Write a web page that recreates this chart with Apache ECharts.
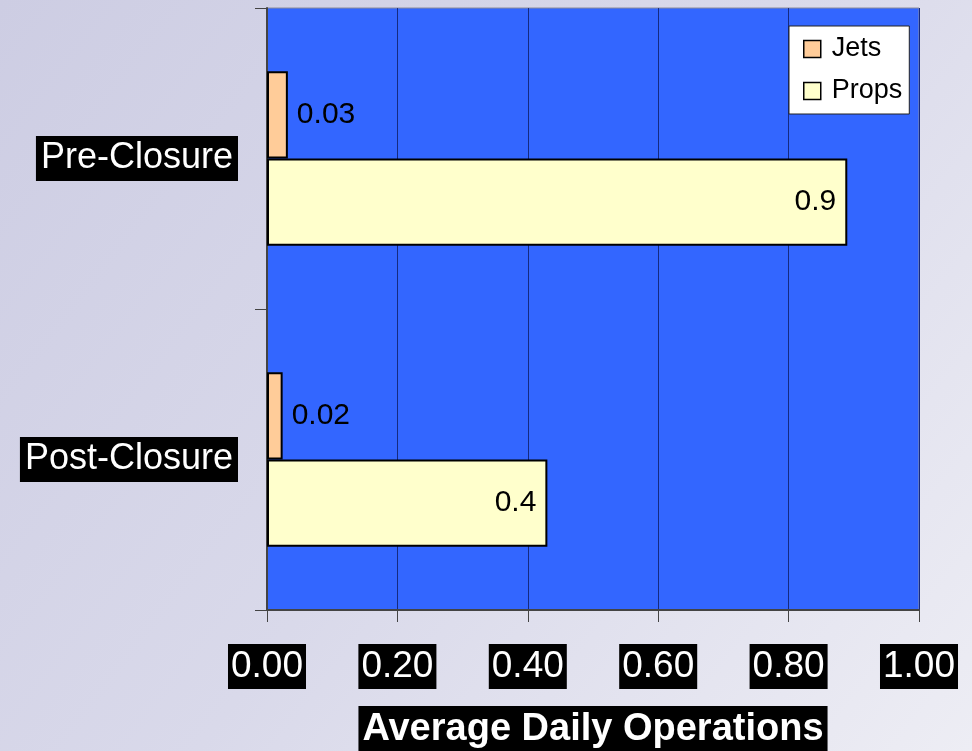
<!DOCTYPE html>
<html>
<head>
<meta charset="utf-8">
<script src="https://cdn.jsdelivr.net/npm/echarts@6/dist/echarts.min.js"></script>
<style>
html,body{margin:0;padding:0;}
#chart{width:972px;height:751px;}
</style>
</head>
<body>
<div id="chart"></div>
<script>
var categories = ['Pre-Closure', 'Post-Closure'];
var jets = [0.032, 0.024];
var props = [0.89, 0.43];
var xTicks = { min: 0, max: 1, interval: 0.2 };

var FONT = 'Liberation Sans, Arial, sans-serif';
var chart = echarts.init(document.getElementById('chart'));
chart.setOption({
  animation: false,
  backgroundColor: {
    type: 'linear', x: 0, y: 0, x2: 1, y2: 1,
    colorStops: [
      { offset: 0, color: '#cdcde3' },
      { offset: 0.5, color: '#d9d9ea' },
      { offset: 1, color: '#ededf4' }
    ]
  },
  grid: {
    left: 267, top: 8, width: 652, height: 602,
    outerBoundsMode: 'none',
    show: true, backgroundColor: '#3366FF', borderColor: '#8a8a9a', borderWidth: 1,
    containLabel: false
  },
  legend: {
    orient: 'vertical', left: 789, top: 26,
    backgroundColor: '#ffffff', borderColor: '#222', borderWidth: 1,
    padding: [8, 7, 8, 14], itemGap: 12,
    itemWidth: 17, itemHeight: 17, icon: 'rect',
    itemStyle: { borderColor: '#000', borderWidth: 1.5 },
    textStyle: { fontFamily: FONT, fontSize: 27, color: '#000', lineHeight: 30, padding: [0, 0, 0, 6] },
    data: ['Jets', 'Props']
  },
  xAxis: {
    type: 'value', min: xTicks.min, max: xTicks.max, interval: xTicks.interval,
    axisLine: { show: true, lineStyle: { color: '#444', width: 2 } },
    axisTick: { show: true, inside: false, length: 12, lineStyle: { color: '#444', width: 1 } },
    splitLine: { show: true, lineStyle: { color: '#152a80', width: 1 } },
    axisLabel: {
      margin: 34, fontFamily: FONT, fontSize: 37, color: '#fff', lineHeight: 38,
      backgroundColor: '#000', padding: [4, 3, 3, 3],
      formatter: function (v) { return v.toFixed(2); }
    },
    name: 'Average Daily Operations', nameLocation: 'middle', nameGap: 96,
    nameTextStyle: {
      fontFamily: FONT, fontSize: 38, fontWeight: 'bold', color: '#fff', lineHeight: 42,
      backgroundColor: '#000', padding: [3, 4, 2, 4], verticalAlign: 'top'
    }
  },
  yAxis: {
    type: 'category', data: categories, inverse: true,
    axisLine: { show: true, lineStyle: { color: '#444', width: 2 } },
    axisTick: { show: true, inside: false, length: 12, lineStyle: { color: '#444', width: 1 } },
    splitLine: { show: false },
    axisLabel: {
      margin: 29, fontFamily: FONT, fontSize: 36, color: '#fff', lineHeight: 37,
      backgroundColor: '#000', padding: [4, 5, 4, 5]
    }
  },
  series: [
    {
      name: 'Jets', type: 'bar', data: jets, barGap: '0%', barCategoryGap: '42%',
      itemStyle: { color: '#FFCC99', borderColor: '#000', borderWidth: 2 },
      label: {
        show: true, position: 'right', distance: 9, fontFamily: FONT, fontSize: 30, color: '#000',
        formatter: function (p) { return p.value.toFixed(2); }
      }
    },
    {
      name: 'Props', type: 'bar', data: props, barGap: '0%', barCategoryGap: '42%',
      itemStyle: { color: '#FFFFCC', borderColor: '#000', borderWidth: 2 },
      label: {
        show: true, position: 'insideRight', distance: 11, fontFamily: FONT, fontSize: 30, color: '#000',
        formatter: function (p) { return p.value.toFixed(1); }
      }
    }
  ]
});
</script>
</body>
</html>
